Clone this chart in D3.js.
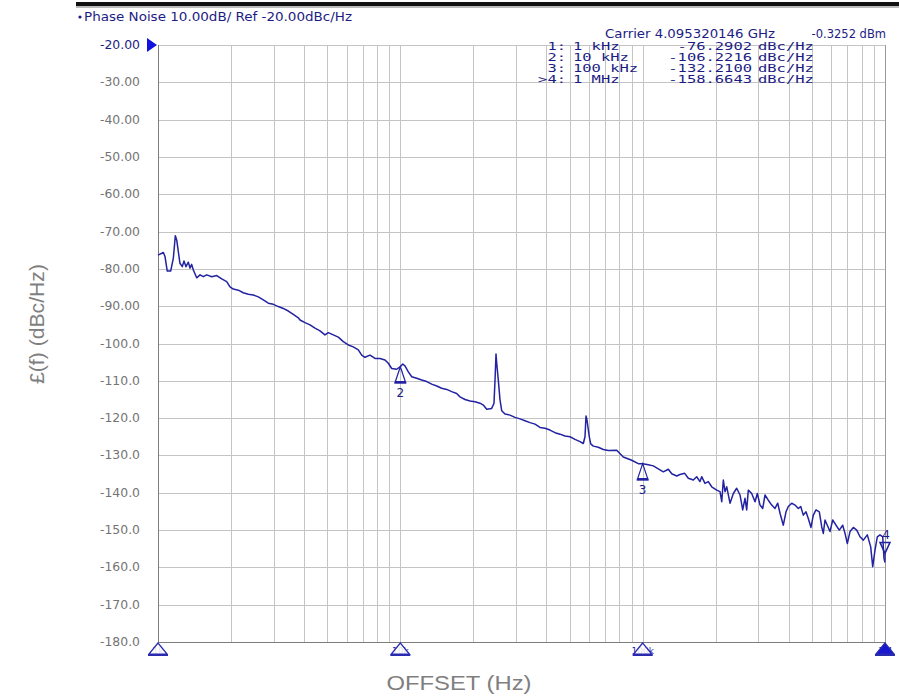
<!DOCTYPE html>
<html>
<head>
<meta charset="utf-8">
<script src="https://cdn.jsdelivr.net/npm/d3@7"></script>
<style>
  body { margin: 0; background: #fff; }
  svg { display: block; }
</style>
</head>
<body>
<div id="chart"></div>
<script>
// trace: offset (Hz) and phase noise (dBc/Hz)
const offsetHz = [1000,1052,1069,1092,1128,1157,1179,1195,1213,1232,1260,1280,1305,1334,1355,1377,1399,1444,1491,1538,1589,1666,1747,1832,1921,1982,2045,2145,2249,2359,2474,2594,2720,2853,2991,3136,3289,3449,3617,3793,3855,4043,4239,4445,4661,4888,5044,5289,5546,5816,6099,6395,6708,6928,7148,7495,7861,8243,8644,8920,9213,9661,10000,10230,10450,10790,11140,11680,12250,12850,13470,14130,14810,15540,16290,17080,17630,18490,19390,20330,21320,22000,22720,23820,24350,24590,24820,24990,25370,25780,26200,27030,28350,29730,31180,32700,34280,35950,37710,39540,41460,43480,45600,47810,50140,52580,55130,56890,57810,58370,58920,59480,60230,61040,62560,65610,68800,72140,78130,83190,90120,95940,100000,105500,110600,116000,121700,127600,131800,138200,142500,149100,154300,161800,167100,172400,175200,180800,186600,192700,202100,208500,212000,215200,218700,222300,229300,236700,244300,252200,258700,264400,268700,272900,281800,290800,297300,305000,312900,319800,329900,340800,351600,360800,368800,380500,390400,399000,412100,425300,438800,449000,460200,472100,482500,495000,506000,519100,535700,548000,556500,565500,578000,593000,608400,627800,647800,669100,683900,699100,717200,740000,764400,788700,813800,845300,873000,889800,909400,929500,953600,978400,990600,1000000];
const noiseDbc = [-76.3,-75.6,-76.7,-80.6,-80.6,-77.1,-71.1,-72.3,-75.4,-78.5,-79.4,-77.9,-79.4,-78.2,-79.8,-78.8,-80.3,-82.4,-81.6,-82.1,-81.6,-82.1,-81.8,-82.7,-83.4,-84.8,-85.4,-85.7,-86.4,-86.8,-87.0,-87.5,-88.3,-89.2,-89.5,-90.1,-90.6,-91.3,-92.2,-93.1,-93.7,-94.4,-95.0,-95.9,-96.6,-97.7,-97.1,-97.7,-98.3,-99.5,-100.4,-100.9,-101.7,-103.1,-103.7,-103.1,-104.0,-104.0,-104.4,-105.3,-106.7,-106.9,-106.2,-105.5,-106.0,-107.6,-108.9,-109.3,-109.8,-110.2,-110.9,-111.4,-112.0,-112.3,-112.9,-113.4,-114.3,-115.0,-115.4,-115.6,-116.0,-116.5,-117.6,-117.4,-116.0,-109.8,-102.8,-105.3,-109.8,-115.1,-118.0,-118.9,-119.2,-119.8,-120.2,-120.7,-121.2,-121.6,-122.5,-122.7,-123.2,-123.9,-124.3,-124.8,-125.0,-125.7,-126.3,-126.8,-125.0,-119.4,-120.5,-122.5,-125.0,-126.9,-127.5,-127.8,-128.4,-128.7,-128.6,-130.4,-131.3,-132.2,-132.2,-132.5,-132.8,-133.6,-134.4,-133.7,-134.9,-135.5,-135.1,-134.8,-136.1,-136.6,-135.7,-137.0,-135.7,-137.5,-137.0,-138.4,-139.3,-139.7,-142.4,-136.6,-139.7,-138.4,-142.8,-140.2,-138.8,-140.6,-144.6,-141.5,-144.6,-139.3,-140.2,-142.4,-140.2,-143.3,-144.2,-140.6,-142.0,-143.3,-144.2,-142.8,-145.5,-148.7,-145.1,-143.7,-142.8,-143.3,-144.2,-143.7,-146.0,-145.1,-146.9,-149.3,-146.0,-144.6,-145.1,-149.1,-150.9,-147.3,-148.7,-150.4,-147.3,-148.7,-150.0,-148.7,-150.9,-153.6,-150.4,-149.3,-150.0,-151.8,-152.7,-151.3,-154.5,-159.8,-155.4,-151.8,-151.3,-151.8,-157.6,-158.7];

// y axis ticks
const yTickValues = [-20,-30,-40,-50,-60,-70,-80,-90,-100,-110,-120,-130,-140,-150,-160,-170,-180];
const yTickLabels = ["-20.00","-30.00","-40.00","-50.00","-60.00","-70.00","-80.00","-90.00","-100.0","-110.0","-120.0","-130.0","-140.0","-150.0","-160.0","-170.0","-180.0"];

// marker table
const markerIds = ["1:", "2:", "3:", ">4:"];
const markerNums = ["1", "2", "3", "4"];
const markerFreqLabels = ["1 kHz", "10 kHz", "100 kHz", "1 MHz"];
const markerHz = [1000, 10000, 100000, 1000000];
const markerDbc = [-76.2902, -106.2216, -132.2100, -158.6643];
const stimLabels = ["1k", "10k", "100k", "1M"];

const titleText = "Phase Noise 10.00dB/ Ref -20.00dBc/Hz";
const carrierText = "Carrier 4.095320146 GHz";
const carrierPower = "-0.3252 dBm";

const W = 899, H = 696;
const plot = { left: 158, right: 885, top: 45, bottom: 642 };
const navy = "#1c1c84";
const traceBlue = "#2222a2";
const sansFont = "'DejaVu Sans', Verdana, sans-serif";
const monoFont = "'DejaVu Sans Mono', monospace";

const svg = d3.select("#chart").append("svg")
    .attr("width", W)
    .attr("height", H)
    .attr("viewBox", `0 0 ${W} ${H}`);

svg.append("rect").attr("width", W).attr("height", H).attr("fill", "#fff");

const x = d3.scaleLog().domain([1e3, 1e6]).range([plot.left, plot.right]);
const y = d3.scaleLinear().domain([-180, -20]).range([plot.bottom, plot.top]);

// top bar
svg.append("rect").attr("x", 76).attr("y", 2).attr("width", W - 76).attr("height", 4).attr("fill", "#111");
svg.append("rect").attr("x", 76).attr("y", 6).attr("width", W - 76).attr("height", 2).attr("fill", "#bbb");

// grid
const grid = svg.append("g").attr("stroke", "#c4c4c4").attr("stroke-width", 1).attr("shape-rendering", "crispEdges");
grid.selectAll("line.v")
    .data(x.ticks().filter(d => d > 1e3 && d < 1e6))
    .enter().append("line")
    .attr("class", "v")
    .attr("x1", d => Math.round(x(d)) + 0.5).attr("x2", d => Math.round(x(d)) + 0.5)
    .attr("y1", plot.top).attr("y2", plot.bottom);
grid.selectAll("line.h")
    .data(yTickValues)
    .enter().append("line")
    .attr("class", "h")
    .attr("x1", plot.left).attr("x2", plot.right)
    .attr("y1", d => Math.round(y(d)) + 0.5).attr("y2", d => Math.round(y(d)) + 0.5);

// frame
const frame = svg.append("g").attr("stroke", "#7d7d7d").attr("shape-rendering", "crispEdges");
frame.append("line").attr("x1", plot.left + 0.5).attr("x2", plot.left + 0.5).attr("y1", plot.top).attr("y2", plot.bottom + 1).attr("stroke-width", 1.5);
frame.append("line").attr("x1", plot.left).attr("x2", plot.right + 1).attr("y1", plot.bottom + 0.5).attr("y2", plot.bottom + 0.5).attr("stroke-width", 1.5);
frame.append("line").attr("x1", plot.right + 0.5).attr("x2", plot.right + 0.5).attr("y1", plot.top).attr("y2", plot.bottom).attr("stroke", "#9a9a9a");

// y tick labels
svg.append("g")
    .selectAll("text")
    .data(yTickValues)
    .enter().append("text")
    .attr("x", 140)
    .attr("y", d => y(d) + 4)
    .attr("text-anchor", "end")
    .attr("font-family", sansFont)
    .attr("font-size", 12)
    .attr("fill", (d, i) => i === 0 ? navy : "#747474")
    .attr("textLength", 40)
    .attr("lengthAdjust", "spacingAndGlyphs")
    .text((d, i) => yTickLabels[i]);

// reference level arrow
svg.append("path")
    .attr("d", `M147,${y(-20) - 7} L157,${y(-20)} L147,${y(-20) + 7} Z`)
    .attr("fill", "#1010e0");

// header
svg.append("circle").attr("cx", 80).attr("cy", 17).attr("r", 1.6).attr("fill", navy);
svg.append("text")
    .attr("x", 84).attr("y", 21)
    .attr("font-family", sansFont).attr("font-size", 12)
    .attr("fill", navy)
    .attr("textLength", 268).attr("lengthAdjust", "spacingAndGlyphs")
    .text(titleText);
svg.append("text")
    .attr("x", 605).attr("y", 38)
    .attr("font-family", sansFont).attr("font-size", 11.5)
    .attr("fill", navy)
    .attr("textLength", 170).attr("lengthAdjust", "spacingAndGlyphs")
    .text(carrierText);
svg.append("text")
    .attr("x", 886).attr("y", 38)
    .attr("text-anchor", "end")
    .attr("font-family", sansFont).attr("font-size", 11.5)
    .attr("fill", navy)
    .text(carrierPower);

// marker readout table
const charW = 9.3;
const table = svg.append("g").attr("font-family", monoFont).attr("font-size", 10.5).attr("fill", navy);
markerIds.forEach((id, i) => {
    const by = 50 + i * 10.9;
    const value = markerDbc[i].toFixed(4);
    table.append("text").attr("x", 566).attr("y", by).attr("text-anchor", "end")
        .attr("textLength", id.length * charW).attr("lengthAdjust", "spacingAndGlyphs").text(id);
    table.append("text").attr("x", 573).attr("y", by)
        .attr("textLength", markerFreqLabels[i].length * charW).attr("lengthAdjust", "spacingAndGlyphs").text(markerFreqLabels[i]);
    table.append("text").attr("x", 752).attr("y", by).attr("text-anchor", "end")
        .attr("textLength", value.length * charW).attr("lengthAdjust", "spacingAndGlyphs").text(value);
    table.append("text").attr("x", 758).attr("y", by)
        .attr("textLength", 6 * charW).attr("lengthAdjust", "spacingAndGlyphs").text("dBc/Hz");
});

// trace
const traceData = offsetHz.map((f, i) => ({ f: f, v: noiseDbc[i] }));
const line = d3.line().x(d => x(d.f)).y(d => y(d.v));
svg.append("path")
    .datum(traceData)
    .attr("d", line)
    .attr("fill", "none")
    .attr("stroke", traceBlue)
    .attr("stroke-width", 1.5)
    .attr("stroke-linejoin", "round");

// markers on the trace
const mk = svg.append("g").attr("stroke", traceBlue).attr("fill", "none").attr("stroke-width", 1.2);
[1, 2].forEach(i => {
    const cx = x(markerHz[i]), cy = y(markerDbc[i]);
    mk.append("path").attr("d", `M${cx},${cy} L${cx - 5},${cy + 15} L${cx + 5},${cy + 15} Z`);
    mk.append("line").attr("x1", cx - 6).attr("x2", cx + 6).attr("y1", cy + 16).attr("y2", cy + 16).attr("stroke-width", 2);
    svg.append("text").attr("x", cx).attr("y", cy + 30).attr("text-anchor", "middle")
        .attr("font-family", sansFont).attr("font-size", 12).attr("fill", navy).text(markerNums[i]);
});
{
    const cx = x(markerHz[3]), cy = y(markerDbc[3]);
    mk.append("path").attr("d", `M${cx - 5},${cy - 20} L${cx + 5},${cy - 20} L${cx},${cy - 9} Z`).attr("stroke-width", 1.5);
    mk.append("line").attr("x1", cx).attr("x2", cx).attr("y1", cy - 9).attr("y2", cy - 2);
    svg.append("text").attr("x", cx + 1).attr("y", cy - 23).attr("text-anchor", "middle")
        .attr("font-family", sansFont).attr("font-size", 12).attr("fill", navy).text(markerNums[3]);
}

// stimulus markers along the bottom edge
const stim = svg.append("g");
markerHz.forEach((f, i) => {
    const cx = x(f), b = plot.bottom;
    stim.append("text").attr("x", cx).attr("y", b + 12).attr("text-anchor", "middle")
        .attr("font-family", sansFont).attr("font-size", 9).attr("fill", "#3030b0").text(stimLabels[i]);
    stim.append("path")
        .attr("d", `M${cx},${b + 1} L${cx - 9},${b + 12} L${cx + 9},${b + 12} Z`)
        .attr("fill", i === 3 ? "#1818d0" : "rgba(255,255,255,0.85)")
        .attr("stroke", "#2a2ab0").attr("stroke-width", 1.2);
    stim.append("line").attr("x1", cx - 10).attr("x2", cx + 10).attr("y1", b + 13).attr("y2", b + 13)
        .attr("stroke", "#2a2ab0").attr("stroke-width", 2);
});

// axis titles
svg.append("text")
    .attr("transform", "translate(44,324) rotate(-90)")
    .attr("text-anchor", "middle")
    .attr("font-family", "'Liberation Sans', Arial, sans-serif")
    .attr("font-size", 20)
    .attr("fill", "#7f7f7f")
    .attr("textLength", 120).attr("lengthAdjust", "spacingAndGlyphs")
    .text("£(f) (dBc/Hz)");
svg.append("text")
    .attr("x", 459).attr("y", 690)
    .attr("text-anchor", "middle")
    .attr("font-family", "'Liberation Sans', Arial, sans-serif")
    .attr("font-size", 20)
    .attr("fill", "#7f7f7f")
    .attr("textLength", 145).attr("lengthAdjust", "spacingAndGlyphs")
    .text("OFFSET (Hz)");
</script>
</body>
</html>
